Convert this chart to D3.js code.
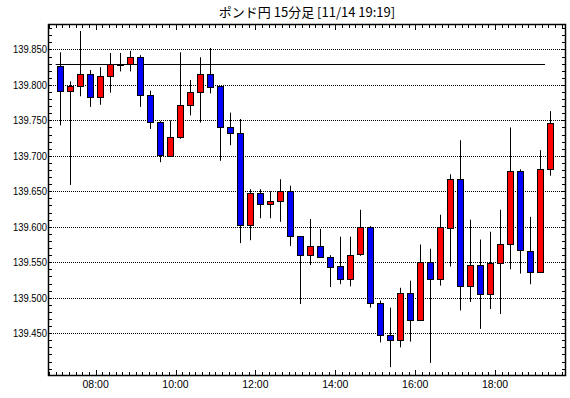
<!DOCTYPE html>
<html>
<head>
<meta charset="utf-8">
<script src="https://cdn.jsdelivr.net/npm/d3@7"></script>
<style>
  html, body { margin: 0; padding: 0; background: #fff; }
  svg { display: block; }
</style>
</head>
<body>
<svg id="chart" width="570" height="398"></svg>
<script>
const titleText = "ポンド円 15分足 [11/14 19:19]";
const times = ["07:00","07:15","07:30","07:45","08:00","08:15","08:30","08:45",
  "09:00","09:15","09:30","09:45","10:00","10:15","10:30","10:45",
  "11:00","11:15","11:30","11:45","12:00","12:15","12:30","12:45",
  "13:00","13:15","13:30","13:45","14:00","14:15","14:30","14:45",
  "15:00","15:15","15:30","15:45","16:00","16:15","16:30","16:45",
  "17:00","17:15","17:30","17:45","18:00","18:15","18:30","18:45",
  "19:00","19:15"];
const opens = [139.826,139.791,139.799,139.816,139.783,139.812,139.830,139.830,
  139.840,139.786,139.748,139.700,139.726,139.771,139.790,139.816,
  139.798,139.740,139.732,139.602,139.647,139.632,139.637,139.650,
  139.587,139.560,139.573,139.558,139.544,139.526,139.561,139.599,
  139.492,139.447,139.441,139.506,139.468,139.551,139.527,139.598,
  139.668,139.517,139.546,139.505,139.549,139.576,139.679,139.566,
  139.536,139.681];
const highs = [139.846,139.805,139.876,139.821,139.825,139.845,139.845,139.848,
  139.842,139.792,139.749,139.750,139.846,139.807,139.839,139.852,
  139.798,139.761,139.752,139.653,139.653,139.650,139.667,139.658,
  139.587,139.611,139.597,139.560,139.586,139.586,139.624,139.601,
  139.496,139.486,139.514,139.524,139.575,139.569,139.617,139.674,
  139.722,139.610,139.582,139.593,139.624,139.740,139.681,139.614,
  139.708,139.763];
const lows = [139.743,139.659,139.784,139.769,139.772,139.789,139.819,139.819,
  139.769,139.738,139.691,139.700,139.724,139.757,139.747,139.788,
  139.693,139.715,139.577,139.581,139.612,139.612,139.607,139.573,
  139.491,139.546,139.557,139.515,139.519,139.516,139.559,139.486,
  139.437,139.402,139.430,139.438,139.468,139.408,139.517,139.544,
  139.482,139.494,139.456,139.484,139.477,139.540,139.534,139.519,
  139.536,139.672];
const closes = [139.791,139.799,139.816,139.783,139.813,139.829,139.830,139.840,
  139.786,139.748,139.701,139.726,139.771,139.790,139.816,139.797,
  139.740,139.732,139.602,139.647,139.632,139.637,139.650,139.587,
  139.560,139.573,139.558,139.543,139.526,139.560,139.599,139.492,
  139.447,139.441,139.507,139.468,139.551,139.527,139.599,139.668,
  139.517,139.546,139.505,139.549,139.576,139.679,139.567,139.536,
  139.681,139.746];
const refLevel = 139.829;
const yTickValues = [139.450,139.500,139.550,139.600,139.650,139.700,139.750,139.800,139.850];
const xTickLabels = ["08:00","10:00","12:00","14:00","16:00","18:00"];
const xDomainLabels = ["06:50","19:45"];
const yDomain = [139.391, 139.8845];

const parse = d3.timeParse("%H:%M");
const fmt = d3.timeFormat("%H:%M");
const L = 49, R = 565, T = 25, B = 375;

const x = d3.scaleTime().domain(xDomainLabels.map(parse)).range([L, R]);
const y = d3.scaleLinear().domain(yDomain).range([B, T]);

const svg = d3.select("#chart");
const font = "'Liberation Sans', Arial, sans-serif";

const data = times.map((t, i) => ({
  t: parse(t), o: opens[i], h: highs[i], l: lows[i], c: closes[i]
}));

// gridlines
const grid = svg.append("g");
grid.selectAll("line").data(yTickValues).join("line")
  .attr("x1", L).attr("x2", R)
  .attr("y1", d => Math.round(y(d)) + 0.5).attr("y2", d => Math.round(y(d)) + 0.5)
  .attr("stroke", "#000").attr("stroke-width", 1)
  .attr("stroke-dasharray", "1,1");

// minor y ticks (every 0.01)
const yMinor = d3.range(139.40, 139.885, 0.01);
const yt = svg.append("g");
yt.selectAll("line.l").data(yMinor).join("line").attr("class", "l")
  .attr("x1", L).attr("x2", L + 3)
  .attr("y1", d => Math.round(y(d)) + 0.5).attr("y2", d => Math.round(y(d)) + 0.5)
  .attr("stroke", "#000");
yt.selectAll("line.r").data(yMinor).join("line").attr("class", "r")
  .attr("x1", R - 3).attr("x2", R)
  .attr("y1", d => Math.round(y(d)) + 0.5).attr("y2", d => Math.round(y(d)) + 0.5)
  .attr("stroke", "#000");

// x ticks every 10 minutes
const xt = d3.timeMinute.every(10).range(parse("06:50"), parse("19:45"));
const isMajor = d => xTickLabels.includes(fmt(d));
const xtg = svg.append("g");
xtg.selectAll("line.b").data(xt).join("line").attr("class", "b")
  .attr("x1", d => Math.round(x(d)) + 0.5).attr("x2", d => Math.round(x(d)) + 0.5)
  .attr("y1", B).attr("y2", d => B - (isMajor(d) ? 5 : 3))
  .attr("stroke", "#000");
xtg.selectAll("line.t").data(xt).join("line").attr("class", "t")
  .attr("x1", d => Math.round(x(d)) + 0.5).attr("x2", d => Math.round(x(d)) + 0.5)
  .attr("y1", T).attr("y2", d => T + (isMajor(d) ? 5 : 3))
  .attr("stroke", "#000");

// reference level line
svg.append("line")
  .attr("x1", x(parse(times[0]))).attr("x2", x(parse(times[times.length - 1])))
  .attr("y1", Math.round(y(refLevel)) + 0.5).attr("y2", Math.round(y(refLevel)) + 0.5)
  .attr("stroke", "#000").attr("stroke-width", 1);

// candles
const half = d3.timeMinute.offset;
const cx = d => Math.round(x(half(d.t, 7.5)));
const candles = svg.append("g");
candles.selectAll("line").data(data).join("line")
  .attr("x1", d => cx(d) + 0.5).attr("x2", d => cx(d) + 0.5)
  .attr("y1", d => y(d.h)).attr("y2", d => y(d.l))
  .attr("stroke", "#000").attr("stroke-width", 1);
candles.selectAll("rect").data(data).join("rect")
  .attr("x", d => cx(d) - 2.5)
  .attr("width", 6)
  .attr("y", d => Math.round(y(Math.max(d.o, d.c))) + 0.5)
  .attr("height", d => Math.max(1, Math.round(y(Math.min(d.o, d.c))) - Math.round(y(Math.max(d.o, d.c)))))
  .attr("fill", d => d.c > d.o ? "#ff0000" : d.c < d.o ? "#0000ff" : "#000")
  .attr("stroke", "#000").attr("stroke-width", 1);

// frame
svg.append("rect")
  .attr("x", L - 0.5).attr("y", T - 0.5)
  .attr("width", R - L + 1).attr("height", B - T + 1)
  .attr("fill", "none").attr("stroke", "#000").attr("stroke-width", 1.5);

// y labels
svg.append("g").selectAll("text").data(yTickValues).join("text")
  .attr("x", L - 2).attr("y", d => y(d) + 4)
  .attr("text-anchor", "end")
  .attr("font-family", font).attr("font-size", 10.5)
  .attr("textLength", 34).attr("lengthAdjust", "spacingAndGlyphs")
  .text(d => d.toFixed(3));

// x labels
svg.append("g").selectAll("text").data(xTickLabels).join("text")
  .attr("x", d => x(parse(d))).attr("y", 388)
  .attr("text-anchor", "middle")
  .attr("font-family", font).attr("font-size", 10.5)
  .text(d => d);

// title
svg.append("text")
  .attr("x", (L + R) / 2).attr("y", 17)
  .attr("text-anchor", "middle")
  .attr("font-family", "'Noto Sans CJK JP', sans-serif").attr("font-size", 13)
  .text(titleText);
</script>
</body>
</html>
